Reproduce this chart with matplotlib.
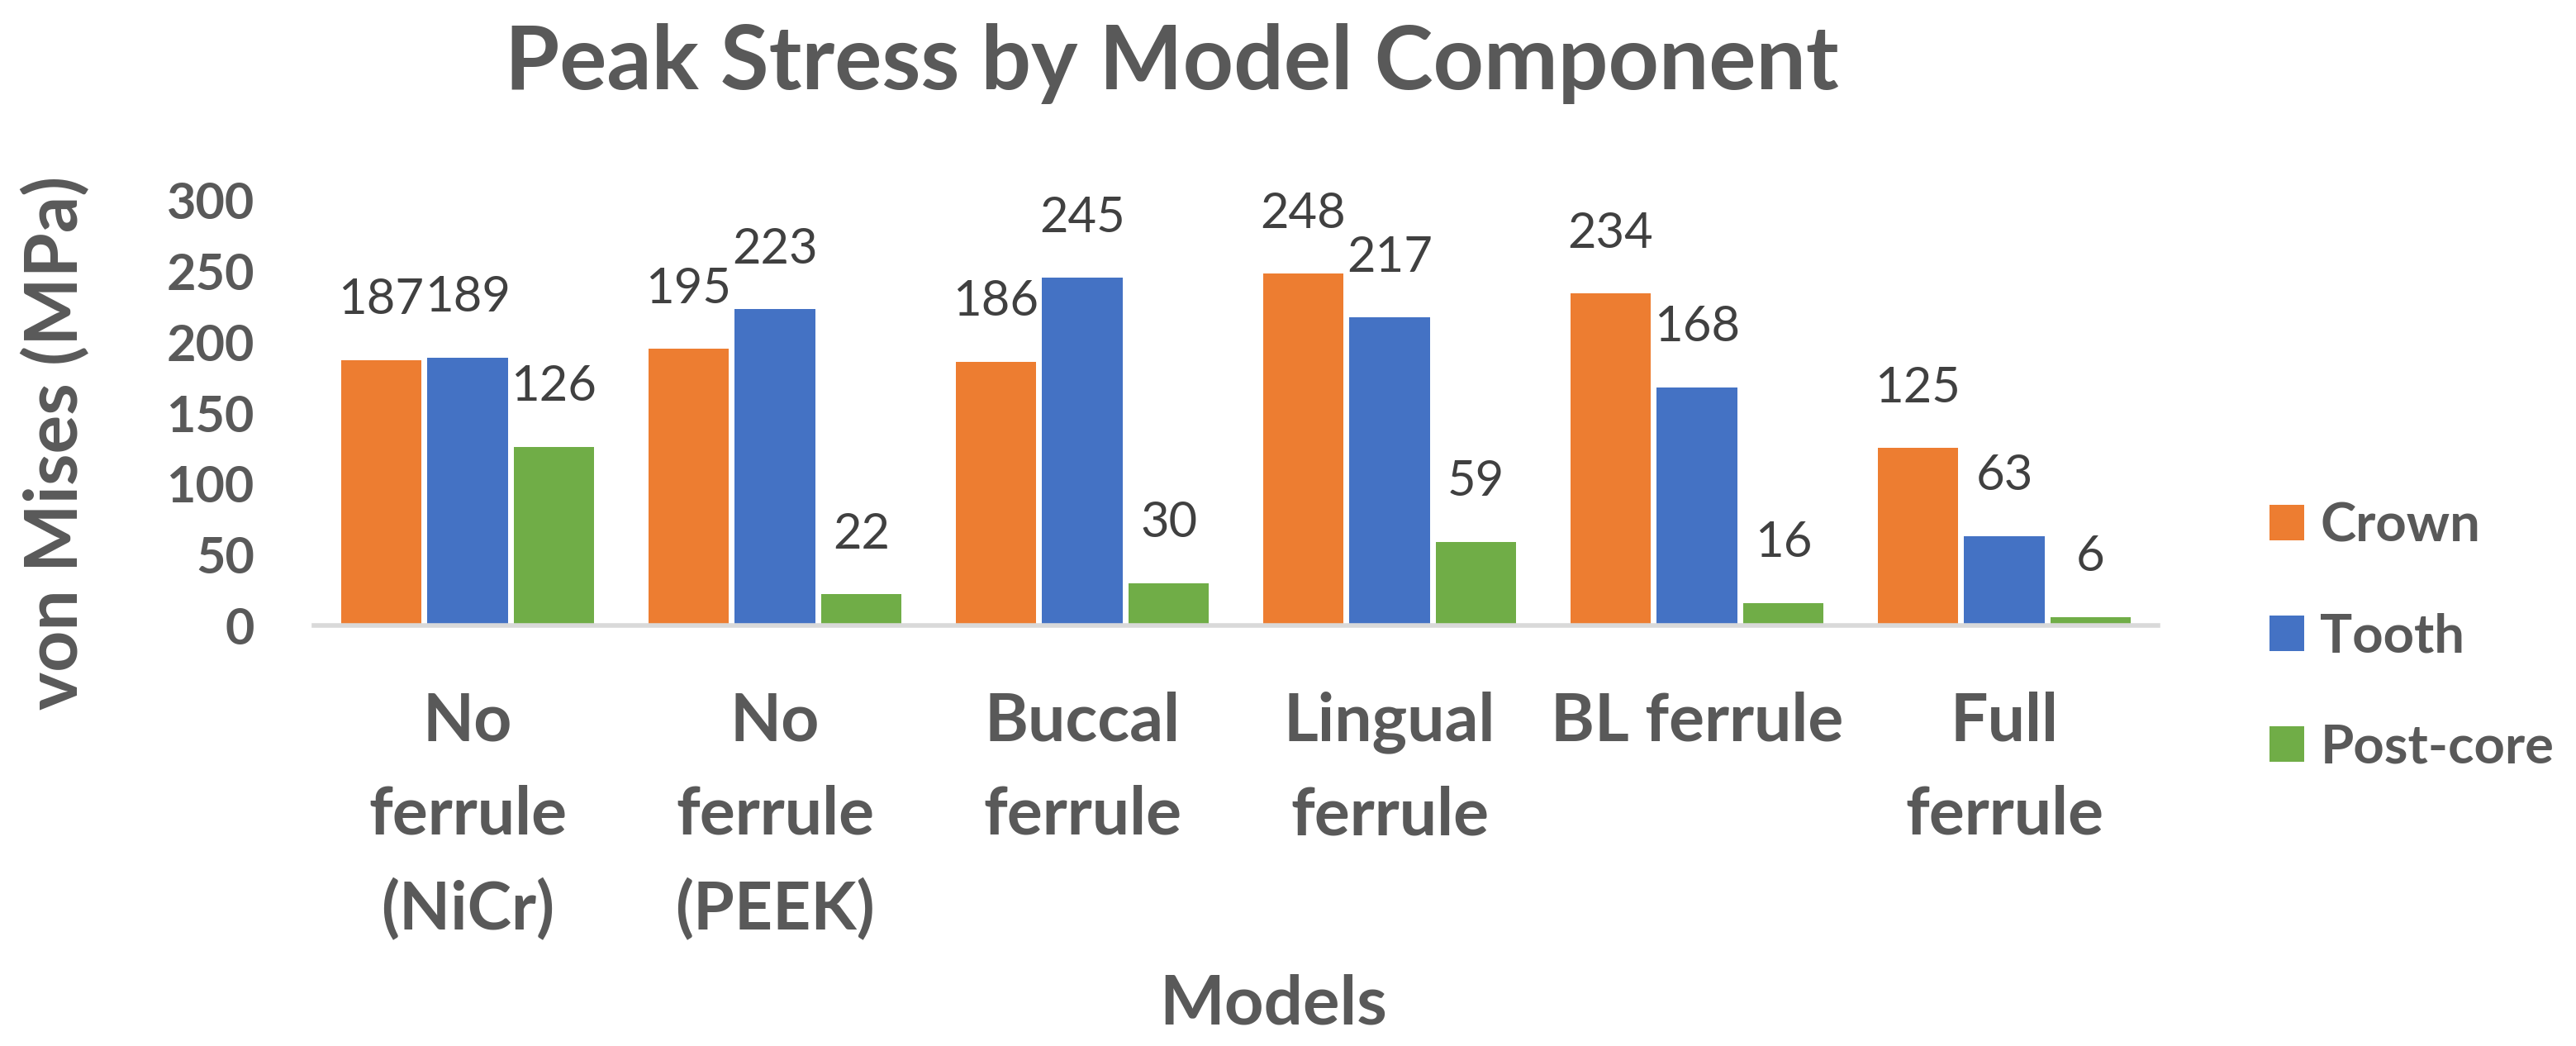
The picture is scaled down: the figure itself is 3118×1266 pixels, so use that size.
import numpy as np
import matplotlib
matplotlib.use("Agg")
import matplotlib.pyplot as plt

# data
models = ["No\nferrule\n(NiCr)", "No\nferrule\n(PEEK)", "Buccal\nferrule",
          "Lingual\nferrule", "BL ferrule", "Full\nferrule"]
crown = [187, 195, 186, 248, 234, 125]
tooth = [189, 223, 245, 217, 168, 63]
post_core = [126, 22, 30, 59, 16, 6]

series = [("Crown", crown, "#ED7D31"),
          ("Tooth", tooth, "#4472C4"),
          ("Post-core", post_core, "#70AD47")]

plt.rcParams['font.family'] = ['Lato', 'DejaVu Sans']
AXIS_GRAY = "#595959"
LABEL_GRAY = "#404040"

fig = plt.figure(figsize=(31.18, 12.66), dpi=100)
ax = fig.add_axes([0.12187, 0.40205, 0.71585, 0.4068])

x = np.arange(len(models))
width = 0.261
step = 0.281

for i, (name, vals, col) in enumerate(series):
    pos = x + (i - 1) * step
    ax.bar(pos, vals, width, color=col, label=name, zorder=2)
    for xi, v in zip(pos, vals):
        ax.annotate(str(v), (xi, v), xytext=(0, 40), textcoords='offset points',
                    ha='center', va='baseline', fontsize=43, color=LABEL_GRAY)

ax.set_xlim(-0.5, len(models) - 0.5)
ax.set_ylim(0, 300)
ax.set_yticks(np.arange(0, 301, 50))

for s in ['top', 'right', 'left']:
    ax.spines[s].set_visible(False)
ax.spines['bottom'].set_color('#D9D9D9')
ax.spines['bottom'].set_linewidth(4)
ax.spines['bottom'].set_zorder(3)

ax.tick_params(axis='y', length=0, pad=52, labelsize=44, labelcolor=AXIS_GRAY)
ax.tick_params(axis='x', length=0, pad=57, labelsize=58, labelcolor=AXIS_GRAY)
for t in ax.get_yticklabels():
    t.set_fontweight('bold')
ax.set_xticks(x)
ax.set_xticklabels(models, fontweight='bold', linespacing=1.65, va='top')

fig.text(0.4548, 0.9147, "Peak Stress by Model Component", ha='center', va='baseline',
         fontsize=77, fontweight='bold', color=AXIS_GRAY)
fig.text(0.4942, 0.0213, "Models", ha='center', va='baseline',
         fontsize=60, fontweight='bold', color=AXIS_GRAY)
fig.text(0.0215, 0.577, "von Mises (MPa)", ha='center', va='center', rotation=90,
         fontsize=63, fontweight='bold', color=AXIS_GRAY)

leg = ax.legend(loc='center left', bbox_to_anchor=(0.881, 0.391),
                bbox_transform=fig.transFigure, frameon=False, borderpad=0,
                borderaxespad=0, handlelength=0.64, handleheight=0.64,
                handletextpad=0.3, labelspacing=1.15, fontsize=47)
for t in leg.get_texts():
    t.set_color(AXIS_GRAY)
    t.set_fontweight('bold')

fig.savefig("out.png", dpi=100)
